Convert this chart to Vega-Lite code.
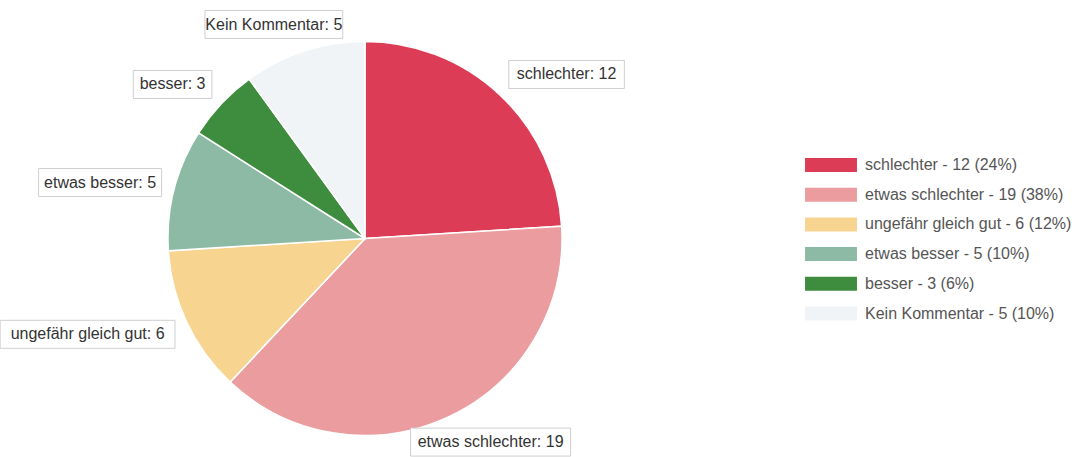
{
  "$schema": "https://vega.github.io/schema/vega-lite/v6.json",
  "width": 730,
  "height": 437,
  "autosize": "none",
  "padding": {"left": 0, "top": 20, "right": 348, "bottom": 0},
  "background": "white",
  "config": {"view": {"stroke": null}},
  "data": {
    "values": [
      {"label": "schlechter", "count": 12, "order": 1},
      {"label": "etwas schlechter", "count": 19, "order": 2},
      {"label": "ungefähr gleich gut", "count": 6, "order": 3},
      {"label": "etwas besser", "count": 5, "order": 4},
      {"label": "besser", "count": 3, "order": 5},
      {"label": "Kein Kommentar", "count": 5, "order": 6}
    ]
  },
  "transform": [
    {"joinaggregate": [{"op": "sum", "field": "count", "as": "total"}]},
    {"window": [{"op": "sum", "field": "count", "as": "cum"}], "sort": [{"field": "order"}], "frame": [null, 0]},
    {"calculate": "2*PI*(datum.cum-datum.count/2)/datum.total", "as": "mid"},
    {"calculate": "datum.label+' - '+datum.count+' ('+round(100*datum.count/datum.total)+'%)'", "as": "legend"},
    {"calculate": "datum.label+': '+datum.count", "as": "tag"},
    {"calculate": "abs(sin(datum.mid))<0.5 ? 295*sin(datum.mid) : 210*sin(datum.mid)", "as": "ax"},
    {"calculate": "225*cos(datum.mid)", "as": "ay"},
    {"calculate": "length(datum.tag)*7.4+12", "as": "bw"},
    {"calculate": "sin(datum.mid)>0.5 ? datum.ax : (sin(datum.mid)<-0.5 ? datum.ax-datum.bw : datum.ax-datum.bw/2)", "as": "bx1"},
    {"calculate": "datum.bx1+datum.bw", "as": "bx2"},
    {"calculate": "(datum.bx1+datum.bx2)/2", "as": "tx"},
    {"calculate": "datum.ay-14", "as": "by1"},
    {"calculate": "datum.ay+14", "as": "by2"}
  ],
  "layer": [
    {
      "mark": {"type": "arc", "radius": 197, "stroke": "white", "strokeWidth": 1.5},
      "encoding": {
        "theta": {"field": "count", "type": "quantitative", "stack": true},
        "order": {"field": "order", "type": "quantitative"},
        "color": {
          "field": "legend",
          "type": "nominal",
          "sort": {"field": "order", "op": "min"},
          "scale": {"range": ["#dd3c56", "#eb9c9e", "#f8d491", "#8dbaa5", "#3e8c3e", "#f1f4f6"]},
          "legend": {
            "orient": "none",
            "legendX": 823,
            "legendY": 137,
            "title": null,
            "symbolType": "M-3.71,-1H3.71V1H-3.71Z",
            "symbolSize": 196,
            "symbolStrokeWidth": 0,
            "labelFont": "Liberation Sans",
            "labelFontSize": 16,
            "labelColor": "#555555",
            "labelOffset": 26,
            "labelLimit": 400,
            "rowPadding": 13.7
          }
        }
      }
    },
    {
      "mark": {"type": "rect", "fill": "white", "stroke": "#cfcfcf", "strokeWidth": 1},
      "encoding": {
        "x": {"field": "bx1", "type": "quantitative", "scale": {"domain": [-365, 365], "nice": false, "zero": false}, "axis": null},
        "x2": {"field": "bx2"},
        "y": {"field": "by1", "type": "quantitative", "scale": {"domain": [-218.5, 218.5], "nice": false, "zero": false}, "axis": null},
        "y2": {"field": "by2"}
      }
    },
    {
      "mark": {"type": "text", "font": "Liberation Sans", "fontSize": 16, "fill": "#333333"},
      "encoding": {
        "x": {"field": "tx", "type": "quantitative"},
        "y": {"field": "ay", "type": "quantitative"},
        "text": {"field": "tag"}
      }
    }
  ]
}
